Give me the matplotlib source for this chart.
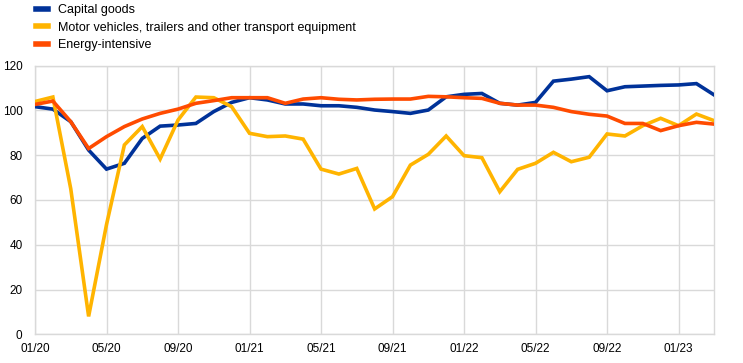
import matplotlib
matplotlib.use("Agg")
import matplotlib.pyplot as plt

plt.rcParams['font.family'] = ['Liberation Sans', 'DejaVu Sans']

months = ["01/20","02/20","03/20","04/20","05/20","06/20","07/20","08/20","09/20","10/20","11/20","12/20",
          "01/21","02/21","03/21","04/21","05/21","06/21","07/21","08/21","09/21","10/21","11/21","12/21",
          "01/22","02/22","03/22","04/22","05/22","06/22","07/22","08/22","09/22","10/22","11/22","12/22",
          "01/23","02/23","03/23"]

capital_goods = [101.7, 100.6, 95.0, 82.3, 73.8, 76.4, 87.5, 93.0, 93.5, 94.2, 99.5, 103.6,
                 105.7, 104.7, 102.9, 102.9, 102.1, 102.1, 101.4, 100.2, 99.5, 98.7, 100.2, 106.1,
                 107.2, 107.6, 103.2, 102.4, 103.6, 113.1, 114.0, 115.1, 108.8, 110.6, 110.9, 111.2,
                 111.4, 112.0, 106.9]

motor_vehicles = [104.0, 106.0, 65.0, 8.0, 49.0, 84.6, 92.8, 78.3, 95.7, 106.0, 105.7, 101.7,
                  89.8, 88.3, 88.6, 87.2, 73.8, 71.6, 74.1, 56.0, 61.5, 75.6, 80.4, 88.6,
                  79.8, 78.9, 63.7, 73.7, 76.4, 81.3, 77.1, 79.1, 89.5, 88.6, 93.2, 96.5,
                  93.2, 98.4, 95.4]

energy_intensive = [102.7, 104.2, 95.0, 83.0, 88.3, 92.8, 96.2, 98.7, 100.6, 103.2, 104.4, 105.7,
                    105.7, 105.7, 103.2, 105.1, 105.7, 105.0, 104.7, 105.0, 105.1, 105.1, 106.3, 106.1,
                    105.7, 105.4, 103.2, 102.4, 102.4, 101.4, 99.5, 98.3, 97.5, 94.2, 94.2, 91.0,
                    93.2, 94.7, 93.9]

series_names = ["Capital goods", "Motor vehicles, trailers and other transport equipment", "Energy-intensive"]
colors = ["#003299", "#FFB400", "#FF4B00"]

fig = plt.figure(figsize=(7.43, 3.63), dpi=100)
ax = fig.add_axes([35/743, 1-334.3/363, (714.3-35)/743, (334.3-65.7)/363])

x = list(range(len(months)))
lines = []
for vals, name, c in zip([capital_goods, motor_vehicles, energy_intensive], series_names, colors):
    ln, = ax.plot(x, vals, color=c, lw=2.6, label=name, solid_joinstyle='miter', zorder=3)
    lines.append(ln)

ax.set_xlim(0, len(months) - 1)
ax.set_ylim(0, 120)
ax.set_yticks(range(0, 121, 20))
ax.set_xticks(x[::4])
ax.set_xticklabels(months[::4])
ax.grid(True, color="#d9d9d9", lw=1)
ax.set_axisbelow(True)
for s in ax.spines.values():
    s.set_color("#d9d9d9")
    s.set_linewidth(1)
ax.tick_params(length=0, labelsize=8.5, colors="black", pad=6)
ax.tick_params(axis='y', pad=9)

leg = fig.legend(handles=lines, labels=series_names, loc='upper left',
                 bbox_to_anchor=(28/743, 1.0 + 3/363), frameon=False, fontsize=9,
                 handlelength=1.0, handletextpad=0.8, labelspacing=0.42, borderaxespad=0.2)
for h in leg.get_lines():
    h.set_linewidth(4)

fig.savefig("out.png", dpi=100)
